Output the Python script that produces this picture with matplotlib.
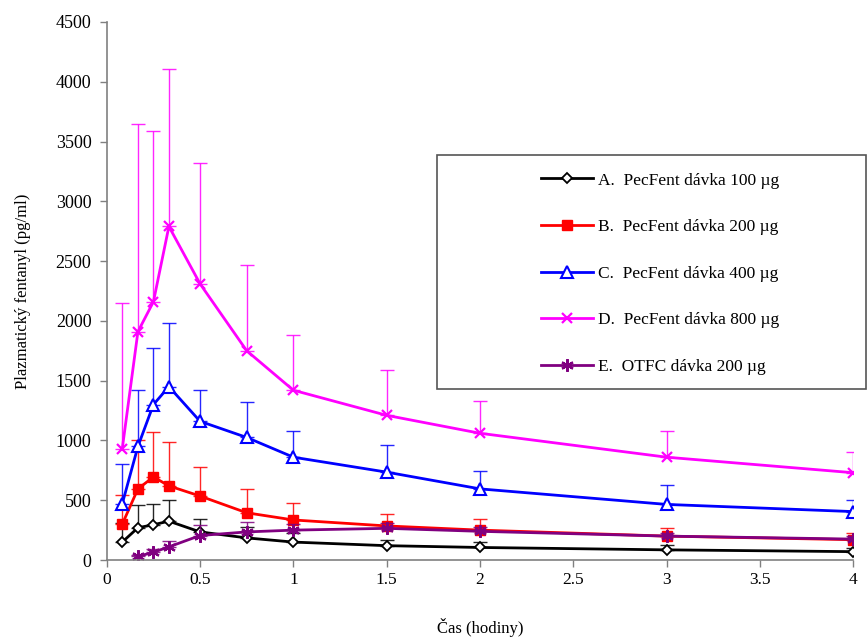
import numpy as np
import matplotlib.pyplot as plt
from matplotlib.patches import Rectangle

# time points (hours)
t = [0.083, 0.167, 0.25, 0.333, 0.5, 0.75, 1, 1.5, 2, 3, 4]
t_e = t[1:]

# mean plasma fentanyl (pg/ml) and upper error bar ends
a_mean = [150, 270, 295, 325, 235, 185, 150, 120, 105, 85, 70]
a_top = [310, 460, 470, 500, 340, 280, 230, 165, 150, 125, 100]
b_mean = [300, 595, 695, 620, 535, 395, 335, 285, 250, 200, 170]
b_top = [545, 1000, 1070, 985, 780, 595, 480, 385, 345, 270, 230]
c_mean = [470, 950, 1300, 1450, 1160, 1025, 860, 735, 595, 465, 405]
c_top = [800, 1420, 1770, 1980, 1420, 1320, 1080, 960, 745, 630, 505]
d_mean = [930, 1910, 2160, 2790, 2310, 1750, 1420, 1210, 1060, 860, 730]
d_top = [2150, 3650, 3590, 4110, 3320, 2470, 1880, 1590, 1330, 1075, 905]
e_mean = [30, 65, 110, 205, 235, 250, 265, 240, 200, 175]
e_top = [45, 90, 160, 290, 315, 300, 310, 280, 230, 200]

labels = ['A.  PecFent dávka 100 µg', 'B.  PecFent dávka 200 µg',
          'C.  PecFent dávka 400 µg', 'D.  PecFent dávka 800 µg',
          'E.  OTFC dávka 200 µg']

plt.rcParams['font.family'] = ['Liberation Serif', 'DejaVu Serif']

fig = plt.figure(figsize=(8.68, 6.39), dpi=100)
ax = fig.add_axes([0.123, 0.1236, 0.86, 0.842])

series = [
    (t, a_mean, a_top, 'black', dict(marker='D', markersize=5.5, markerfacecolor='white', markeredgewidth=1.3)),
    (t, b_mean, b_top, '#ff0000', dict(marker='s', markersize=7.5, markerfacecolor='#ff0000')),
    (t, c_mean, c_top, '#0000ff', dict(marker='^', markersize=8, markerfacecolor='white', markeredgewidth=1.5)),
    (t, d_mean, d_top, '#ff00ff', dict(marker='x', markersize=7, markeredgewidth=1.6)),
    (t_e, e_mean, e_top, '#800080', dict(marker=(6, 2, 0), markersize=9, markeredgewidth=1.6)),
]

handles = []
for x, m, top, col, mk in series:
    m = np.array(m)
    up = np.array(top) - m
    ax.errorbar(x, m, yerr=[np.zeros_like(up), up], fmt='none', ecolor=col,
                elinewidth=1, capsize=5, capthick=1, alpha=0.85)
    h, = ax.plot(x, m, color=col, lw=2, markeredgecolor=col, **mk)
    handles.append(h)

ax.set_xlim(0, 4)
ax.set_ylim(0, 4500)
ax.set_xticks(np.arange(0, 4.01, 0.5))
ax.set_xticklabels(['0', '0.5', '1', '1.5', '2', '2.5', '3', '3.5', '4'])
ax.set_yticks(np.arange(0, 4501, 500))
ax.tick_params(colors='#808080', labelcolor='black', length=5, width=1)
ax.tick_params(axis='x', labelsize=12.5)
ax.tick_params(axis='y', labelsize=13, pad=6)

for s in ['top', 'right']:
    ax.spines[s].set_visible(False)
for s in ['left', 'bottom']:
    ax.spines[s].set_color('#808080')
    ax.spines[s].set_linewidth(1.2)

ax.set_xlabel('Čas (hodiny)', fontsize=12, labelpad=22)
ax.set_ylabel('Plazmatický fentanyl (pg/ml)', fontsize=12, labelpad=18)

# legend box drawn separately, entries centred inside it
box = Rectangle((0.4424, 0.318), 0.575, 0.4348, transform=ax.transAxes,
                facecolor='white', edgecolor='#555555', linewidth=1.2,
                clip_on=False, zorder=4)
ax.add_patch(box)
leg = ax.legend(handles, labels, loc='center', bbox_to_anchor=(0.741, 0.5325),
                fontsize=12.5, labelspacing=1.75, handlelength=3.0,
                handletextpad=0.3, frameon=False, borderaxespad=0)
leg.set_zorder(5)

fig.savefig('out.png', dpi=100)
